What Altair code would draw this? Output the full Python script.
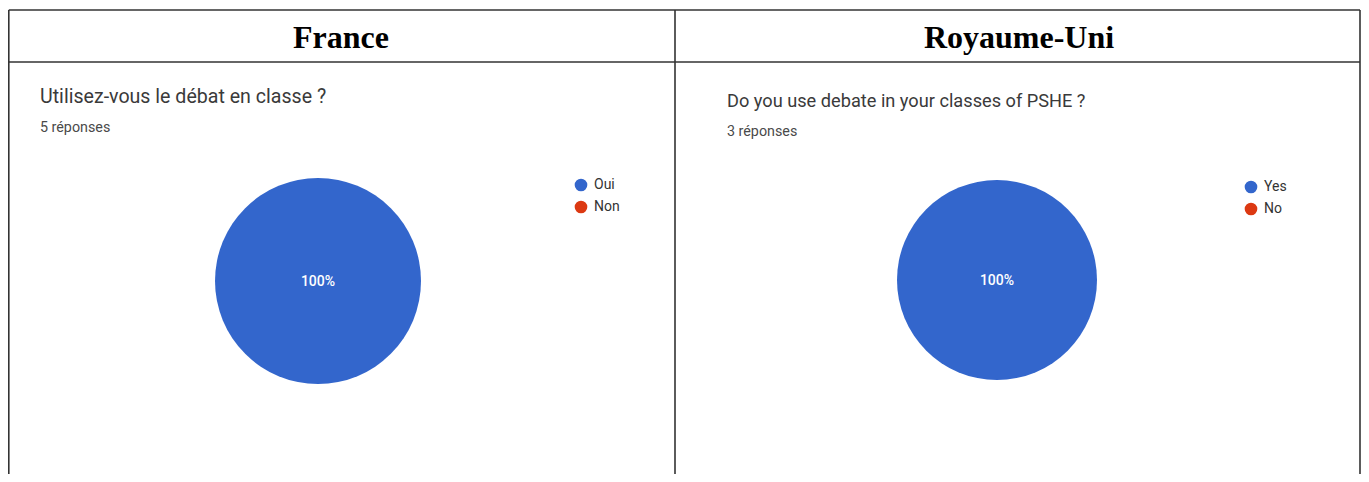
import altair as alt
import pandas as pd

# ---- data ----
countries = ["France", "Royaume-Uni"]
questions = ["Utilisez-vous le débat en classe ?", "Do you use debate in your classes of PSHE ?"]
responses = ["5 réponses", "3 réponses"]
answers_fr = ["Oui", "Non"]
counts_fr = [5, 0]
answers_uk = ["Yes", "No"]
counts_uk = [3, 0]
pie_colors = ["#3366cc", "#dc3912"]

W, H = 1353, 466

fr = pd.DataFrame({"answer": answers_fr, "count": counts_fr, "order": [0, 1]})
uk = pd.DataFrame({"answer": answers_uk, "count": counts_uk, "order": [0, 1]})

dummy = pd.DataFrame({"a": [0]})

# ---- table borders ----
line_col = "#333333"
lw = 1.6
border_specs = [
    # x, x2, y, y2
    (0.8, W - 1, 2, 2),          # top
    (0.8, W - 1, 54, 54),        # header bottom
    (0.8, 0.8, 2, H),            # left
    (667, 667, 2, H),            # middle
    (W - 1, W - 1, 2, H),        # right
]
borders = [
    alt.Chart(dummy).mark_rule(color=line_col, strokeWidth=lw).encode(
        x=alt.value(a), x2=alt.value(b), y=alt.value(c), y2=alt.value(d)
    )
    for a, b, c, d in border_specs
]

# ---- header texts ----
hdr_df = pd.DataFrame({"country": countries})
hdr_x = [333, 1011]
headers = [
    alt.Chart(hdr_df).transform_filter(alt.datum.country == c).mark_text(
        font="Liberation Serif", fontSize=32, fontWeight="bold", color="#000000",
        align="center", baseline="middle"
    ).encode(x=alt.value(x), y=alt.value(30), text="country:N")
    for c, x in zip(countries, hdr_x)
]

# ---- question titles & response counts ----
q_df = pd.DataFrame({"question": questions, "responses": responses, "i": [0, 1]})
q_pos = [(32, 89, 120, 19.6), (719, 94, 124, 18.2)]
qtexts = []
for i, (x, yq, yr, fs) in enumerate(q_pos):
    base = alt.Chart(q_df).transform_filter(alt.datum.i == i)
    qtexts.append(base.mark_text(font="Roboto", fontSize=fs, color="#3a3a3a",
                                 align="left", baseline="middle").encode(
        x=alt.value(x), y=alt.value(yq), text="question:N"))
    qtexts.append(base.mark_text(font="Roboto", fontSize=14.3, color="#4a4a4a",
                                 align="left", baseline="middle").encode(
        x=alt.value(x), y=alt.value(yr), text="responses:N"))


def pie(df, domain, cx, cy, r, lx, ly):
    base = alt.Chart(df)
    arc = base.mark_arc(radius=r, strokeWidth=0).encode(
        theta=alt.Theta("count:Q", stack=True),
        order=alt.Order("order:Q"),
        color=alt.Color(
            "answer:N",
            scale=alt.Scale(domain=domain, range=pie_colors),
            sort=domain,
            legend=alt.Legend(
                orient="none", legendX=lx, legendY=ly, title=None,
                symbolType="circle", symbolSize=160, symbolStrokeWidth=0,
                symbolOpacity=1, labelFont="Roboto", labelFontSize=14,
                labelColor="#333333", rowPadding=8, labelOffset=6, padding=0,
            ),
        ),
        x=alt.value(cx),
        y=alt.value(cy),
    )
    label = base.transform_joinaggregate(total="sum(count)").transform_calculate(
        pct="format(datum.count / datum.total, '.0%')"
    ).transform_filter(alt.datum.count > 0).mark_text(
        font="Roboto", fontSize=14, fontWeight=500, color="#ffffff",
        align="center", baseline="middle"
    ).encode(x=alt.value(cx), y=alt.value(cy + 1), text="pct:N")
    return arc, label


arc_fr, lab_fr = pie(fr, answers_fr, 310, 273, 103, 566, 170)
arc_uk, lab_uk = pie(uk, answers_uk, 989, 272, 100, 1236, 172)

chart = alt.layer(
    *borders, *headers, *qtexts, arc_fr, arc_uk, lab_fr, lab_uk
).resolve_scale(
    color="independent", theta="independent"
).properties(
    width=W, height=H, padding=0, autosize=alt.AutoSizeParams(type="none"),
    background="#ffffff"
).configure_view(strokeOpacity=0)

chart.save("out.html", embed_options={"renderer": "svg", "actions": False})
